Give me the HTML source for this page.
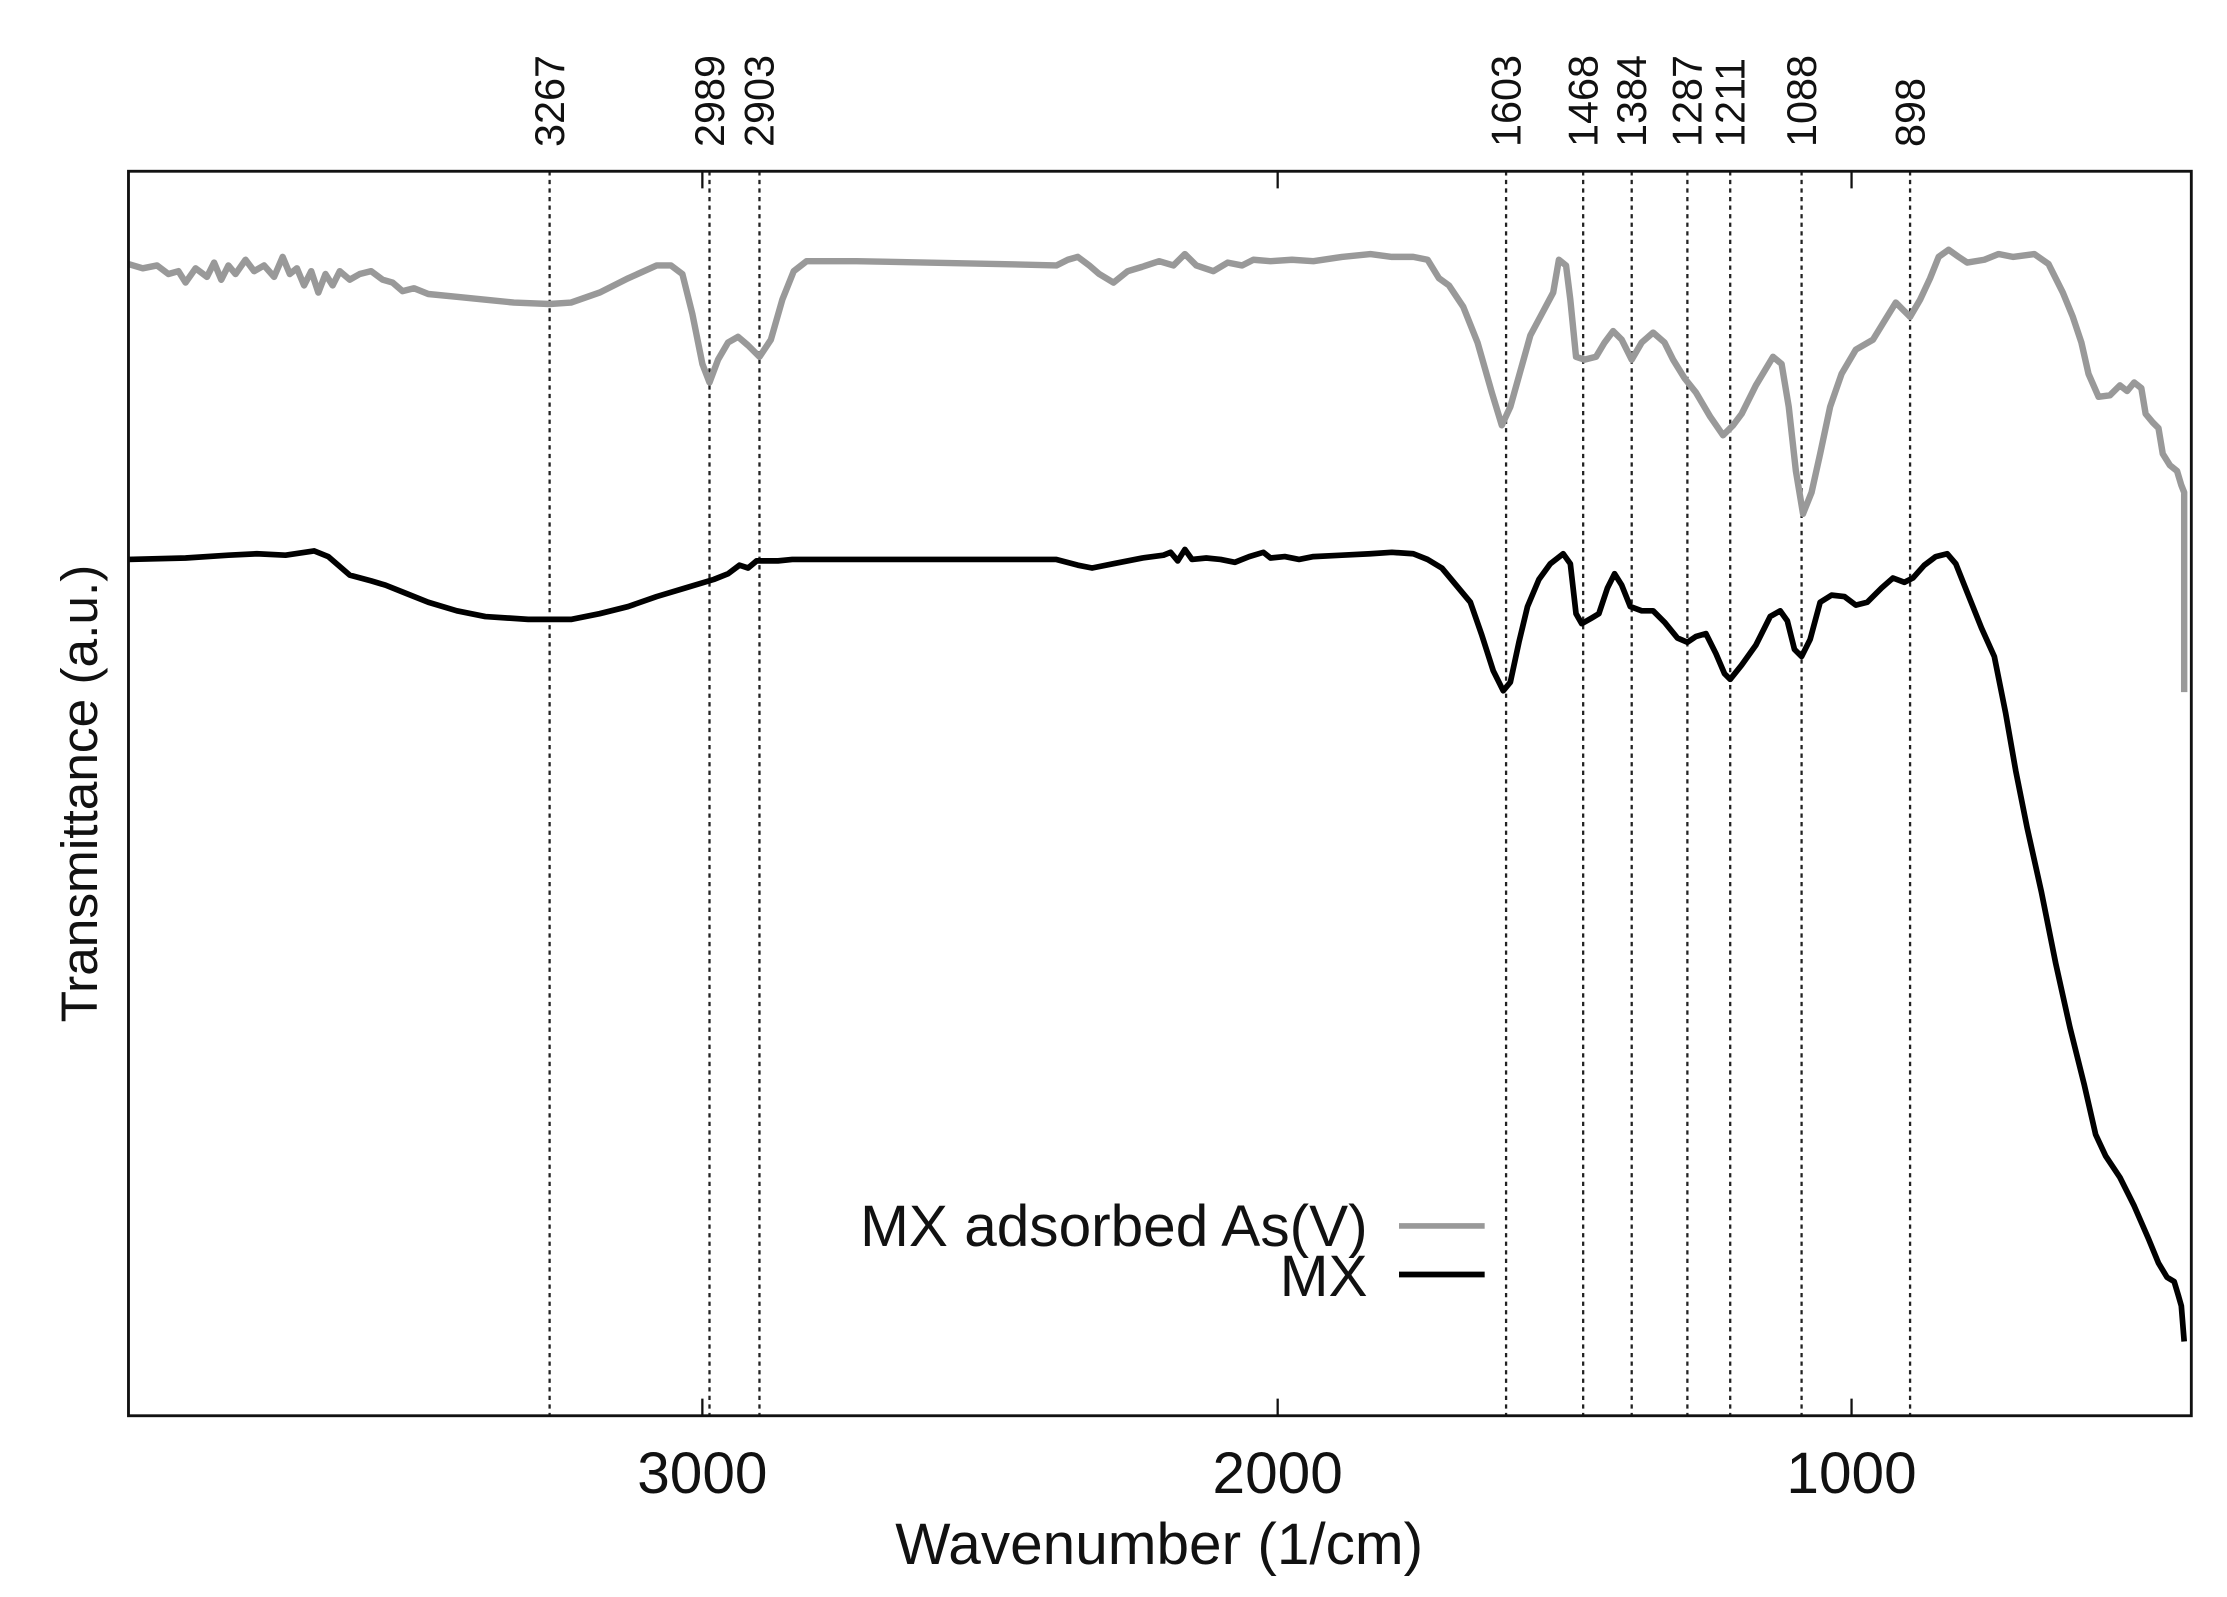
<!DOCTYPE html>
<html><head><meta charset="utf-8"><style>
html,body{margin:0;padding:0;background:#fff;}
svg{display:block;}
text{font-family:"Liberation Sans",sans-serif;fill:#111;}
</style></head><body>
<svg width="2227" height="1597" viewBox="0 0 1560 1119" preserveAspectRatio="none" xmlns="http://www.w3.org/2000/svg">
<rect x="0" y="0" width="1560" height="1119" fill="#fff"/>
<g stroke="#222" stroke-width="1.6" stroke-dasharray="3,3">
<line x1="385" y1="120" x2="385" y2="992"/>
<line x1="497" y1="120" x2="497" y2="992"/>
<line x1="532" y1="120" x2="532" y2="992"/>
<line x1="1055" y1="120" x2="1055" y2="992"/>
<line x1="1109" y1="120" x2="1109" y2="992"/>
<line x1="1143" y1="120" x2="1143" y2="992"/>
<line x1="1182" y1="120" x2="1182" y2="992"/>
<line x1="1212" y1="120" x2="1212" y2="992"/>
<line x1="1262" y1="120" x2="1262" y2="992"/>
<line x1="1338" y1="120" x2="1338" y2="992"/>
</g>
<g stroke="#111" stroke-width="1.6">
<line x1="492" y1="992" x2="492" y2="980"/><line x1="895" y1="992" x2="895" y2="980"/><line x1="1297" y1="992" x2="1297" y2="980"/>
<line x1="492" y1="120" x2="492" y2="132"/><line x1="895" y1="120" x2="895" y2="132"/><line x1="1297" y1="120" x2="1297" y2="132"/>
</g>
<polyline fill="none" stroke="#999" stroke-width="4.5" stroke-linejoin="round" points="
90,185 100,188 110,186 118,192 125,190 130,198 137,188 145,194 150,184 155,196 160,186 165,192 172,182 178,190 185,186 192,194 198,180 203,192 208,188 213,200 218,190 223,205 228,192 233,200 238,190 245,196 252,192 260,190 268,196 275,198 282,204 290,202 300,206 320,208 340,210 360,212 385,213 400,212 420,205 440,195 460,186 470,186 478,192 485,220 492,255 497,268 503,252 510,240 517,236 524,242 532,250 540,238 548,210 556,190 565,183 600,183 700,185 740,186 748,182 755,180 763,186 770,192 780,198 790,190 800,187 812,183 822,186 830,178 838,186 850,190 860,184 870,186 878,182 890,183 905,182 920,183 940,180 960,178 975,180 990,180 1000,182 1008,195 1015,200 1025,215 1035,240 1045,275 1052,298 1058,285 1065,260 1072,235 1080,220 1088,205 1092,182 1097,186 1100,210 1104,250 1110,252 1118,250 1124,240 1130,232 1136,238 1143,252 1150,240 1158,233 1166,240 1172,252 1180,265 1188,275 1198,292 1207,305 1214,298 1220,290 1230,270 1242,250 1248,255 1253,285 1258,330 1263,360 1269,345 1275,318 1282,285 1290,262 1300,245 1312,238 1320,225 1328,212 1338,222 1345,210 1352,195 1358,180 1365,175 1372,180 1378,184 1390,182 1400,178 1410,180 1425,178 1435,185 1445,205 1452,222 1458,240 1463,262 1470,278 1478,277 1485,270 1490,274 1495,268 1500,272 1503,290 1508,296 1512,300 1515,318 1520,326 1525,330 1528,340 1530,345 1530,485"/>
<polyline fill="none" stroke="#000" stroke-width="4" stroke-linejoin="round" points="
90,392 130,391 160,389 180,388 200,389 220,386 230,390 245,403 260,407 270,410 285,416 300,422 320,428 340,432 370,434 400,434 420,430 440,425 460,418 480,412 500,406 510,402 518,396 524,398 530,393 545,393 555,392 650,392 740,392 755,396 765,398 780,395 800,391 815,389 820,387 825,393 830,385 835,392 845,391 855,392 865,394 875,390 885,387 890,391 900,390 910,392 920,390 940,389 960,388 975,387 990,388 1000,392 1010,398 1020,410 1030,422 1038,445 1046,470 1053,484 1058,478 1064,450 1070,425 1078,406 1086,395 1095,388 1100,395 1104,430 1108,437 1115,433 1120,430 1126,412 1131,402 1136,410 1142,425 1150,428 1158,428 1166,436 1175,447 1182,450 1188,446 1195,444 1202,458 1208,472 1212,476 1220,466 1230,452 1240,432 1247,428 1252,435 1257,455 1262,460 1268,448 1275,422 1283,417 1292,418 1300,424 1308,422 1318,412 1326,405 1334,408 1340,405 1348,396 1356,390 1364,388 1370,395 1378,415 1388,440 1397,460 1405,500 1412,540 1420,580 1430,625 1440,675 1450,720 1460,760 1468,795 1475,810 1485,825 1495,845 1505,868 1512,885 1518,895 1523,898 1526,908 1528,915 1530,940"/>
<rect x="90" y="120" width="1445" height="872" fill="none" stroke="#111" stroke-width="2"/>
<g font-size="29" text-anchor="start">
<text transform="translate(395,103) rotate(-90)">3267</text>
<text transform="translate(507,103) rotate(-90)">2989</text>
<text transform="translate(542,103) rotate(-90)">2903</text>
<text transform="translate(1065,103) rotate(-90)">1603</text>
<text transform="translate(1119,103) rotate(-90)">1468</text>
<text transform="translate(1153,103) rotate(-90)">1384</text>
<text transform="translate(1192,103) rotate(-90)">1287</text>
<text transform="translate(1222,103) rotate(-90)">1211</text>
<text transform="translate(1272,103) rotate(-90)">1088</text>
<text transform="translate(1348,103) rotate(-90)">898</text>
</g>
<g font-size="41" text-anchor="middle">
<text x="492" y="1046">3000</text>
<text x="895" y="1046">2000</text>
<text x="1297" y="1046">1000</text>
<text x="812" y="1096">Wavenumber (1/cm)</text>
</g>
<text transform="translate(68,556) rotate(-90)" font-size="36" text-anchor="middle">Transmittance (a.u.)</text>
<g font-size="41" text-anchor="end">
<text x="958" y="873">MX adsorbed As(V)</text>
<text x="958" y="908">MX</text>
</g>
<line x1="980" y1="859" x2="1040" y2="859" stroke="#999" stroke-width="4"/>
<line x1="980" y1="893" x2="1040" y2="893" stroke="#000" stroke-width="4"/>
</svg>
</body></html>
